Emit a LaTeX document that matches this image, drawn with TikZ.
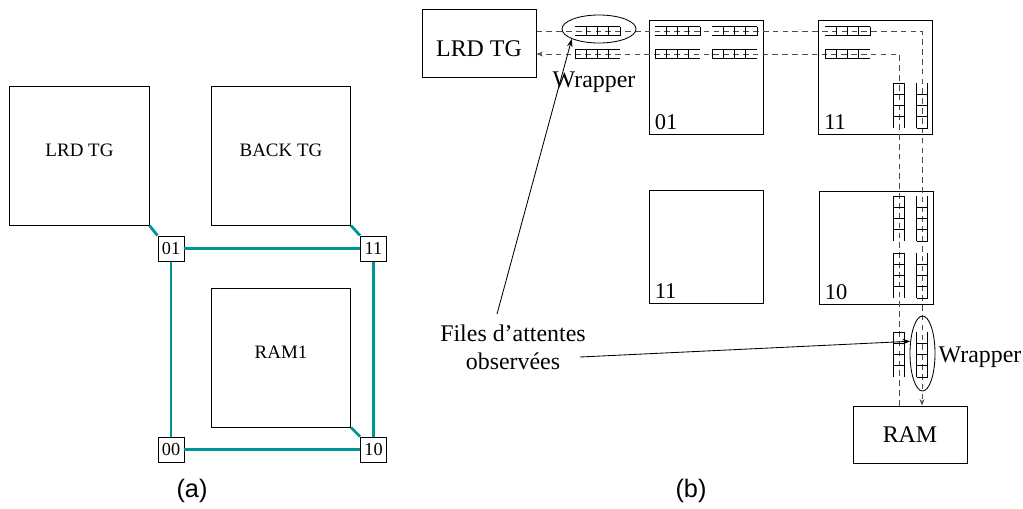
\documentclass[tikz,border=0pt]{standalone}
\usepackage{fontspec}
\setmainfont{Liberation Serif}
\newfontfamily\capfont{Liberation Sans}
\usepackage{xcolor}
\usetikzlibrary{
    positioning,
    arrows.meta,
    shapes.geometric,
    calc,
}
\definecolor{linkteal}{RGB}{0,148,148}
\tikzset{
    % Queue and flow styles
    queue/.style={line width=0.65pt, black},
    flow/.style={dash pattern=on 4pt off 3pt, line width=0.7pt, black!70},
    pointer/.style={-{Stealth[length=2mm, width=1.4mm]}, line width=0.6pt},
}
% horizontal queue: left x, axis y, first and last divider
\newcommand{\fifoh}[4]{%
    \draw[queue] (#1,#2-4.5) -- ++(45,0) (#1,#2+4.5) -- ++(45,0);
    \foreach \k in {#3,...,#4}
        \draw[queue] (#1+11.25*\k,#2-4.5) -- ++(0,9);
}
% vertical queue: axis x, top y, first and last divider
\newcommand{\fifov}[4]{%
    \draw[queue] (#1-5.5,#2) -- ++(0,45) (#1+5.5,#2) -- ++(0,45);
    \foreach \k in {#3,...,#4}
        \draw[queue] (#1-5.5,#2+11.25*\k) -- ++(11,0);
}

\begin{document}
\begin{tikzpicture}[
    x=0.025cm, y=-0.025cm,
    ipbox/.style={rectangle, draw, line width=0.7pt, inner sep=0pt, minimum width=3.475cm, minimum height=3.45cm, text depth=8.5pt, font=\fontsize{13.5}{16}\selectfont},
    router/.style={rectangle, draw, line width=0.7pt, inner sep=0pt, minimum width=0.65cm, minimum height=0.625cm, font=\fontsize{13}{15}\selectfont},
    link/.style={linkteal, line width=2pt},
    tile/.style={rectangle, draw, line width=0.7pt, inner sep=0pt, minimum width=2.85cm, minimum height=2.825cm},
    tilenum/.style={inner sep=0pt, font=\fontsize{16}{18}\selectfont},
    endbox/.style={rectangle, draw, line width=0.7pt, inner sep=0pt, minimum width=2.85cm, font=\fontsize{17}{20}\selectfont},
    wrap/.style={ellipse, draw, line width=0.6pt, inner sep=0pt},
    lab/.style={font=\fontsize{17}{20}\selectfont, inner sep=1pt},
    caption/.style={font=\capfont\fontsize{18}{21}\selectfont},
]
    \useasboundingbox (0,0) rectangle (1023,508);

    % (a) IP blocks
    \node[ipbox] (lrdA) at (79.5,156) {LRD TG};
    \node[ipbox] (backA) at (281,156) {BACK TG};
    \node[ipbox] (ramA) at (281,358) {RAM1};

    % (a) Routers
    \node[router] (r01) at (171,248.5) {01};
    \node[router] (r11) at (373.5,248.5) {11};
    \node[router] (r00) at (171,449.5) {00};
    \node[router] (r10) at (373.5,449.5) {10};

    % (a) Links
    \draw[link] (r01) -- (r11);
    \draw[link] (r00) -- (r10);
    \draw[link] (r01) -- (r00);
    \draw[link] (r11) -- (r10);
    \draw[link] (lrdA.south east) -- (r01.north west);
    \draw[link] (backA.south east) -- (r11.north west);
    \draw[link] (ramA.south east) -- (r10.north west);

    \node[caption] (capA) at (192,491) {(a)};

    % (b) Tiles
    \node[endbox, minimum height=1.7cm, text height=18.7pt] (lrdB) at (479,43) {LRD TG};
    \node[tile] (t01) at (706,77.5) {};
    \node[tile] (t11) at (875.5,77.5) {};
    \node[tile] (t11b) at (706,246.5) {};
    \node[tile] (t10) at (876,247.5) {};
    \node[endbox, minimum height=1.425cm] (ram) at (910,434.5) {RAM};

    \node[tilenum, anchor=base west] (n01) at ($(t01.south west)+(6,-5)$) {01};
    \node[tilenum, anchor=base west] (n11) at ($(t11.south west)+(6,-5)$) {11};
    \node[tilenum, anchor=base west] (n11b) at ($(t11b.south west)+(6,-5)$) {11};
    \node[tilenum, anchor=base west] (n10) at ($(t10.south west)+(6,-5)$) {10};

    % (b) Request and response paths
    \coordinate (outTurn) at (922,31);
    \coordinate (backTurn) at (899,54);
    \draw[flow, -{Stealth[length=1.6mm, width=1.2mm]}] (lrdB.east |- outTurn) -- (outTurn) -- (outTurn |- ram.north);
    \draw[flow, -{Stealth[length=1.6mm, width=1.2mm]}] (backTurn |- ram.north) -- (backTurn) -- (lrdB.east |- backTurn);

    % (b) Queues
    \foreach \qx in {575, 655, 712, 825} {
        \fifoh{\qx}{31}{1}{4}
        \fifoh{\qx}{54}{0}{3}
    }
    \foreach \qy in {83, 196, 253, 332} {
        \fifov{899}{\qy}{0}{3}
        \fifov{922}{\qy}{1}{4}
    }

    % (b) Wrappers
    \node[wrap, minimum width=1.85cm, minimum height=0.7cm] (wrapTop) at (599,29) {};
    \node[wrap, minimum width=0.625cm, minimum height=1.875cm] (wrapBot) at (922.5,353.5) {};
    \node[lab] (wrapLabA) at (594,82) {Wrapper};
    \node[lab, anchor=west] (wrapLabB) at (937,357) {Wrapper};

    % (b) Observed queues
    \node[lab, align=center] (files) at (513,347) {Files d’attentes\\observées};
    \coordinate (tailA) at (497,314);
    \coordinate (tailB) at (580,357);
    \draw[pointer] (tailA) -- (wrapTop.200);
    \draw[pointer] (tailB) -- (wrapBot.135);

    \node[caption] (capB) at (691,491) {(b)};
\end{tikzpicture}
\end{document}
